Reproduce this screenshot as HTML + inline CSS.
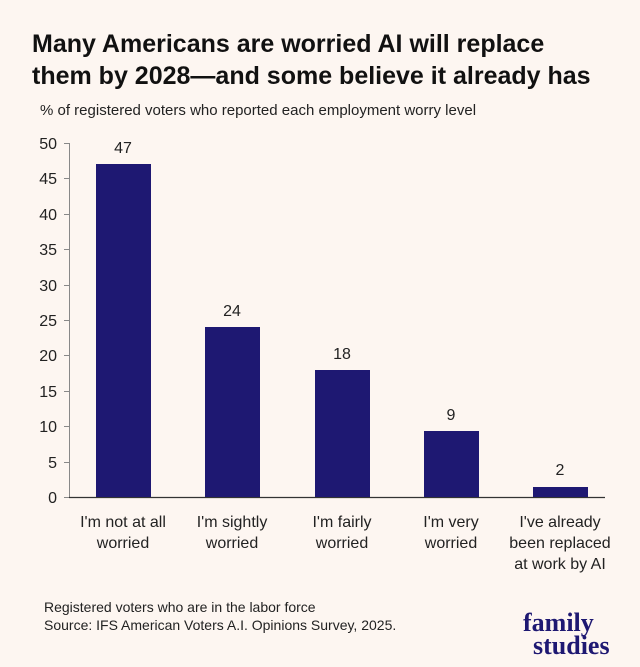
<!DOCTYPE html>
<html><head><style>
body{margin:0;width:640px;height:662px;background:#fdf6f1;font-family:"Liberation Sans",sans-serif;overflow:hidden}
</style></head><body>
<svg width="640" height="662" xmlns="http://www.w3.org/2000/svg">
<rect width="640" height="662" fill="#fdf6f1"/>
<text x="32" y="52" font-size="25" font-weight="bold" fill="#111">Many Americans are worried AI will replace</text>
<text x="32" y="84" font-size="25" font-weight="bold" fill="#111">them by 2028—and some believe it already has</text>
<text x="40" y="115" font-size="15" fill="#222">% of registered voters who reported each employment worry level</text>
<g font-size="16" fill="#222" text-anchor="end">
<text x="57" y="149">50</text>
<text x="57" y="220">45</text>
<text x="57" y="291">40</text>
<text x="57" y="361">35</text>
<text x="57" y="432">30</text>
<text x="57" y="503">25</text>
</g>
<g font-size="16" fill="#222" text-anchor="end">
<text x="57" y="149">50</text>
<text x="57" y="220">45</text>
<text x="57" y="291">40</text>
<text x="57" y="361">35</text>
<text x="57" y="432">30</text>
<text x="57" y="503">0</text>
</g>
<rect x="0" y="130" width="62" height="380" fill="#fdf6f1"/>
<g font-size="16" fill="#222" text-anchor="end">
<text x="57" y="149">50</text>
<text x="57" y="220">45</text>
<text x="57" y="291">40</text>
<text x="57" y="361">35</text>
<text x="57" y="432">10</text>
<text x="57" y="503">0</text>
</g>
<rect x="0" y="130" width="62" height="380" fill="#fdf6f1"/>
<g font-size="16" fill="#222" text-anchor="end">
<text x="57" y="149">50</text>
<text x="57" y="220">40</text>
<text x="57" y="291">30</text>
<text x="57" y="361">20</text>
<text x="57" y="432">10</text>
<text x="57" y="503">0</text>
<text x="57" y="184">45</text>
<text x="57" y="255">35</text>
<text x="57" y="326">25</text>
<text x="57" y="397">15</text>
<text x="57" y="468">5</text>
</g>
<g stroke="#888" stroke-width="1">
<line x1="69.5" y1="143" x2="69.5" y2="497"/>
<line x1="64" x2="69" y1="143.5" y2="143.5"/>
<line x1="64" x2="69" y1="178.5" y2="178.5"/>
<line x1="64" x2="69" y1="214.5" y2="214.5"/>
<line x1="64" x2="69" y1="249.5" y2="249.5"/>
<line x1="64" x2="69" y1="285.5" y2="285.5"/>
<line x1="64" x2="69" y1="320.5" y2="320.5"/>
<line x1="64" x2="69" y1="355.5" y2="355.5"/>
<line x1="64" x2="69" y1="391.5" y2="391.5"/>
<line x1="64" x2="69" y1="426.5" y2="426.5"/>
<line x1="64" x2="69" y1="462.5" y2="462.5"/>
<line x1="64" x2="69" y1="497.5" y2="497.5"/>
</g>
<line x1="69" y1="497.5" x2="605" y2="497.5" stroke="#333" stroke-width="1.2"/>
<g fill="#1e1872">
<rect x="96" y="164" width="55" height="333"/>
<rect x="205" y="327" width="55" height="170"/>
<rect x="315" y="370" width="55" height="127"/>
<rect x="424" y="431" width="55" height="66"/>
<rect x="533" y="487" width="55" height="10"/>
</g>
<g font-size="16" fill="#222" text-anchor="middle">
<text x="123" y="153">47</text><text x="232" y="316">24</text><text x="342" y="359">18</text>
<text x="451" y="420">9</text><text x="560" y="475">2</text>
<text x="123" y="527">I'm not at all</text><text x="123" y="548">worried</text>
<text x="232" y="527">I'm sightly</text><text x="232" y="548">worried</text>
<text x="342" y="527">I'm fairly</text><text x="342" y="548">worried</text>
<text x="451" y="527">I'm very</text><text x="451" y="548">worried</text>
<text x="560" y="527">I've already</text><text x="560" y="548">been replaced</text><text x="560" y="569">at work by AI</text>
</g>
<text x="44" y="612" font-size="14" fill="#222">Registered voters who are in the labor force</text>
<text x="44" y="630" font-size="14" fill="#222">Source: IFS American Voters A.I. Opinions Survey, 2025.</text>
<g font-family="Liberation Serif,serif" font-weight="bold" fill="#1e1872" font-size="26">
<text x="523" y="631">family</text><text x="533" y="654">studies</text>
</g>
</svg>
</body></html>
